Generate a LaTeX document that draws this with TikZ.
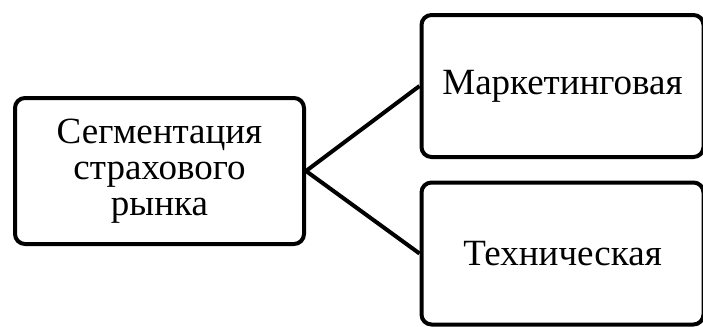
\documentclass[tikz,border=0pt]{standalone}
\usepackage{fontspec}
\setmainfont{Liberation Serif}
\usetikzlibrary{positioning}

\begin{document}
\begin{tikzpicture}[x=0.5pt, y=-0.5pt, line width=2pt, box/.style = {draw, rounded corners=5pt, align=center, inner sep=0pt, font=\fontsize{18.5}{18}\selectfont}]
        \useasboundingbox (0,0) rectangle (703,327);
        \node[box, minimum width=144.5pt, minimum height=73pt] (n_seg) at (159.5,171) {Сегментация\\страхового\\рынка};
        \node[box, minimum width=141pt, minimum height=71pt] (n_mark) at (562.5,86) {Маркетинговая};
        \node[box, minimum width=141pt, minimum height=71pt] (n_tech) at (562.5,253.5) {Техническая};
        
        \draw (n_seg.east) -- (n_mark.west);
        \draw (n_seg.east) -- (n_tech.west);
    \end{tikzpicture}
\end{document}
